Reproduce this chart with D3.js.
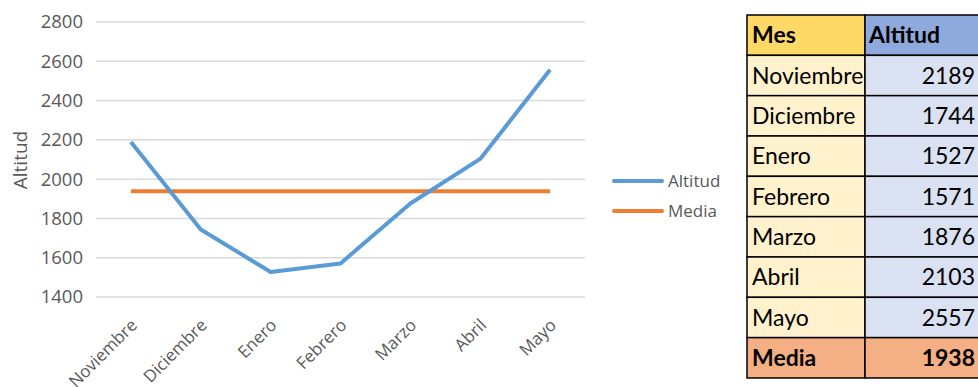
<!DOCTYPE html>
<html><head><meta charset="utf-8">
<script src="https://cdn.jsdelivr.net/npm/d3@7"></script>
<style>
html,body{margin:0;padding:0;background:#fff;}
svg{display:block;}
</style></head>
<body>
<svg id="chart" width="978" height="387"></svg>
<script>
const months = ["Noviembre","Diciembre","Enero","Febrero","Marzo","Abril","Mayo"];
const altitud = [2189,1744,1527,1571,1876,2103,2557];
const media = 1938;
const yTicks = [1400,1600,1800,2000,2200,2400,2600,2800];
const seriesNames = ["Altitud","Media"];
const seriesColors = ["#5B9BD5","#ED7D31"];
const tableHeader = ["Mes","Altitud"];
const footerLabel = "Media";

const svg = d3.select("#chart");
const font = "'Open Sans', sans-serif";

const x = d3.scaleBand().domain(months).range([96,585]);
const y = d3.scaleLinear().domain([1400,2800]).range([297,22]);
const cx = d => x(d) + x.bandwidth()/2;

// grid
svg.append("g").selectAll("line").data(yTicks).join("line")
  .attr("x1",96).attr("x2",585)
  .attr("y1",d=>y(d)).attr("y2",d=>y(d))
  .attr("stroke","#D9D9D9").attr("stroke-width",1.5);

// y axis labels
const yAxis = d3.axisLeft(y).tickValues(yTicks).tickSize(0).tickPadding(0).tickFormat(d3.format("d"));
const gy = svg.append("g").attr("transform","translate(83,0)").call(yAxis);
gy.select(".domain").remove();
gy.selectAll("text").attr("font-family",font).attr("font-size",18.5).attr("fill","#595959");

// x axis labels
const xAxis = d3.axisBottom(x).tickSize(0).tickPadding(0);
const gx = svg.append("g").call(xAxis);
gx.select(".domain").remove();
gx.selectAll(".tick").attr("transform", d => `translate(${cx(d)+3},322)`);
gx.selectAll("text").attr("font-family",font).attr("font-size",17).attr("fill","#595959")
  .attr("text-anchor","end").attr("x",0).attr("y",0).attr("dy","0.35em")
  .attr("transform","rotate(-45)");

// axis title
svg.append("text").attr("transform","translate(27,160) rotate(-90)")
  .attr("text-anchor","middle").attr("font-family",font).attr("font-size",19).attr("fill","#595959")
  .text("Altitud");

// lines
const line = d3.line().x((d,i)=>cx(months[i])).y(d=>y(d));
svg.append("path").datum(months.map(()=>media)).attr("d",line)
  .attr("fill","none").attr("stroke",seriesColors[1]).attr("stroke-width",4);
svg.append("path").datum(altitud).attr("d",line)
  .attr("fill","none").attr("stroke",seriesColors[0]).attr("stroke-width",4).attr("stroke-linejoin","round");

// legend
const leg = svg.append("g").selectAll("g").data(seriesNames).join("g")
  .attr("transform",(d,i)=>`translate(614,${181+i*30})`);
leg.append("line").attr("x1",0).attr("x2",48).attr("y1",0).attr("y2",0)
  .attr("stroke",(d,i)=>seriesColors[i]).attr("stroke-width",4).attr("stroke-linecap","round");
leg.append("text").attr("x",54).attr("dy","0.35em").attr("font-family",font).attr("font-size",17)
  .attr("fill","#595959").text(d=>d);

// table
const tfont = "Lato, 'Open Sans', sans-serif";
const tx0 = 747, tx1 = 865, tx2 = 982, ty0 = 15, rh = 40.33;
const rows = [{a:tableHeader[0],b:tableHeader[1],type:"h"}]
  .concat(months.map((m,i)=>({a:m,b:altitud[i],type:"r"})))
  .concat([{a:footerLabel,b:media,type:"f"}]);
const colA = {h:"#FFD966",r:"#FFF2CC",f:"#F4B084"};
const colB = {h:"#8EA9DB",r:"#D9E1F2",f:"#F4B084"};
const tg = svg.append("g");
const rg = tg.selectAll("g").data(rows).join("g").attr("transform",(d,i)=>`translate(0,${ty0+i*rh})`);
rg.append("rect").attr("x",tx0).attr("width",tx1-tx0).attr("height",rh).attr("fill",d=>colA[d.type])
  .attr("stroke","#000").attr("stroke-width",1.5);
rg.append("rect").attr("x",tx1).attr("width",tx2-tx1).attr("height",rh).attr("fill",d=>colB[d.type])
  .attr("stroke","#000").attr("stroke-width",1.5);
rg.append("text").attr("x",tx0+5).attr("y",rh/2).attr("dy","0.36em").attr("font-family",tfont)
  .attr("font-size",23).attr("font-weight",d=>d.type==="r"?400:700).attr("fill","#000").text(d=>d.a);
rg.append("text").attr("x",d=>d.type==="h"?tx1+4:975).attr("y",rh/2).attr("dy","0.36em")
  .attr("text-anchor",d=>d.type==="h"?"start":"end").attr("font-family",tfont)
  .attr("font-size",23).attr("font-weight",d=>d.type==="r"?400:700).attr("fill","#000").text(d=>d.b);
</script>
</body></html>
